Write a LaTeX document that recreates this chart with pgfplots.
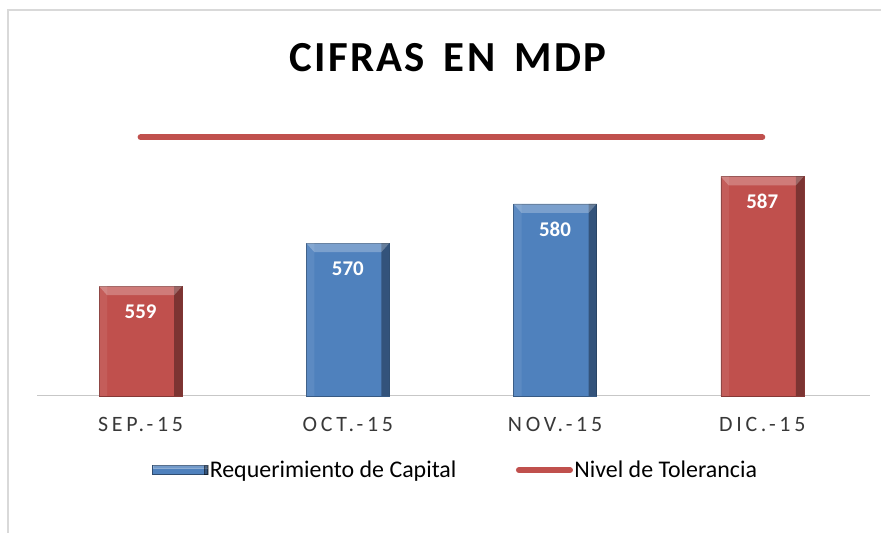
\documentclass[border=0pt]{standalone}
\usepackage{fontspec}
\setmainfont{Carlito}
\newfontfamily\tickfont{Carlito}[LetterSpace=17]
\newfontfamily\titlefont{Carlito}[LetterSpace=5]
\usepackage{pgfplots}
\pgfplotsset{compat=1.18}
\definecolor{xred}{HTML}{C0504D}
\definecolor{xblue}{HTML}{4F81BD}
\definecolor{frame}{HTML}{D9D9D9}
\pgfdeclareplotmark{bevtop}{%
  \pgfpathmoveto{\pgfpoint{-41.5bp}{0bp}}%
  \pgfpathlineto{\pgfpoint{41.5bp}{0bp}}%
  \pgfpathlineto{\pgfpoint{33.5bp}{-9bp}}%
  \pgfpathlineto{\pgfpoint{-33.5bp}{-9bp}}%
  \pgfpathclose\pgfusepathqfill}
\begin{document}
\begin{tikzpicture}[x=1bp,y=1bp]
\useasboundingbox (-37,-137) rectangle (844,396);
\draw[frame, line width=2bp] (-29,-200) -- (-29,386) -- (900,386);
\node[font=\titlefont\bfseries\fontsize{43}{50}\selectfont, anchor=base] at (411,324) {CIFRAS\hspace{0.45em}EN\hspace{0.45em}MDP};
\begin{axis}[
  at={(0,0)}, anchor=south west, scale only axis,
  width=833bp, height=270.5bp,
  xmin=-0.5, xmax=3.52, ymin=531, ymax=600,
  hide y axis, axis x line=bottom,
  axis line style={-, draw=black!22, line width=1bp},
  xtick={0,1,2,3}, xticklabels={SEP.-15,OCT.-15,NOV.-15,DIC.-15},
  major tick length=0pt,
  xticklabel style={font=\tickfont\fontsize{22}{26}\selectfont, text=black!78, anchor=base, yshift=-35.5bp},
  clip=false,
  /pgf/number format/assume math mode=true,
  legend columns=2,
  legend style={at={(0.5024,-0.274)}, anchor=center, draw=none, fill=none,
    font=\fontsize{24}{28}\selectfont,
    nodes={inner sep=1.5bp},
    /tikz/every even column/.append style={column sep=58bp}},
  every node near coord/.append style={font=\bfseries\fontsize{21}{24}\selectfont, text=white, anchor=base, yshift=-32.4bp},
]
% main bars
\addplot[ybar, bar width=83bp, bar shift=0pt, fill=xblue, draw=xblue!70!black,
  legend image code/.code={\draw[fill=xblue, draw=xblue!60!black, line width=0.8bp] (0bp,-4.5bp) rectangle (55bp,4.5bp); \fill[white, opacity=0.2] (0bp,4.5bp) rectangle (55bp,1.5bp); \fill[black, opacity=0.35] (51bp,-4.5bp) rectangle (55bp,4.5bp);}]
  coordinates {(1,570) (2,580)};
\addlegendentry{Requerimiento de Capital}
\addplot[ybar, bar width=83bp, bar shift=0pt, fill=xred, draw=xred!70!black, forget plot]
  coordinates {(0,559) (3,587)};
% bevel: dark right edge strips
\addplot[ybar, bar width=8bp, bar shift=37.5bp, fill=black, fill opacity=0.35, draw=none, forget plot]
  coordinates {(0,559) (1,570) (2,580) (3,587)};
% bevel: light left edge strips
\addplot[ybar, bar width=8bp, bar shift=-37.5bp, fill=white, fill opacity=0.08, draw=none, forget plot]
  coordinates {(0,559) (1,570) (2,580) (3,587)};
% bevel: light top band
\addplot[only marks, mark=bevtop, mark options={fill=white, fill opacity=0.25, draw=none}, forget plot]
  coordinates {(0,559) (1,570) (2,580) (3,587)};
% labels
\addplot[only marks, mark=none, nodes near coords, forget plot]
  coordinates {(0,559) (1,570) (2,580) (3,587)};
\addplot[xred, line width=6bp, line cap=round,
  legend image code/.code={\draw[xred, line width=6bp, line cap=round] (3bp,0bp) -- (54bp,0bp);}]
  coordinates {(0,597) (3,597)};
\addlegendentry{Nivel de Tolerancia}
\end{axis}
\end{tikzpicture}
\end{document}
